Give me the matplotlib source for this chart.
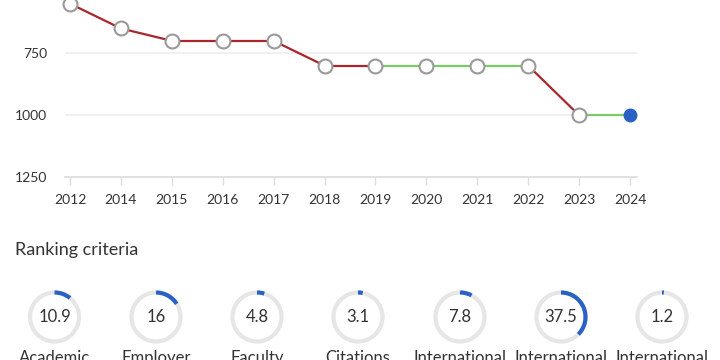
import matplotlib
matplotlib.use('Agg')
import matplotlib.pyplot as plt
from matplotlib.patches import Arc

plt.rcParams['font.family'] = ['Lato', 'DejaVu Sans']

# rank history (lower on the chart = worse rank)
years = ['2012', '2014', '2015', '2016', '2017', '2018', '2019', '2020', '2021', '2022', '2023', '2024']
ranks = [551, 651, 701, 701, 701, 801, 801, 801, 801, 801, 1001, 1001]
seg_colors = ['#a8262c'] * 6 + ['#7ccb67'] * 3 + ['#a8262c', '#7ccb67']

# ranking criteria scores
criteria = ['Academic', 'Employer', 'Faculty', 'Citations', 'International', 'International', 'International']
scores = [10.9, 16, 4.8, 3.1, 7.8, 37.5, 1.2]

text_col = '#333333'
fig = plt.figure(figsize=(7.2, 3.6), dpi=100)

# --- line chart ---
ax = fig.add_axes([65 / 720, 1 - 177 / 360, (637 - 65) / 720, 177 / 360])
x = list(range(len(years)))
for i, c in enumerate(seg_colors):
    ax.plot(x[i:i + 2], ranks[i:i + 2], color=c, lw=1.6, zorder=2, solid_capstyle='butt')
ax.plot(x[:-1], ranks[:-1], 'o', ms=10, mfc='white', mec='#9a9a9a', mew=1.5, zorder=3, clip_on=False)
ax.plot(x[-1], ranks[-1], 'o', ms=9, mfc='#2962c4', mec='#2962c4', zorder=3, clip_on=False)

ax.set_xlim(-5 / 50.9, 11 + 7 / 50.9)
ax.set_ylim(1250, 1250 - 177 / 62 * 250)
ax.set_yticks([750, 1000, 1250])
ax.set_xticks(x)
ax.set_xticklabels(years)
for s in ['top', 'right', 'left']:
    ax.spines[s].set_visible(False)
ax.spines['bottom'].set_color('#dddddd')
ax.spines['bottom'].set_linewidth(1.2)
ax.grid(axis='y', color='#eeeeee', lw=1.2)
ax.set_axisbelow(True)
ax.tick_params(axis='y', length=0, pad=13, labelsize=10, labelcolor=text_col)
ax.tick_params(axis='x', length=6, color='#dddddd', width=1, pad=6, labelsize=10, labelcolor=text_col)

# --- ranking criteria gauges (pixel coords) ---
gx = fig.add_axes([0, 0, 1, 1], zorder=-1)
gx.set_xlim(0, 720)
gx.set_ylim(0, 360)
gx.axis('off')
gx.text(15, 360 - 250.5, 'Ranking criteria', fontsize=13, color=text_col, va='center', ha='left')

centers = [54.5, 156, 257, 358, 460, 561, 662]
cy = 360 - 317
r = 24.5
for cx, v, lab in zip(centers, scores, criteria):
    gx.add_patch(Arc((cx, cy), 2 * r, 2 * r, theta1=0, theta2=360, color='#e6e6e6', lw=3))
    gx.add_patch(Arc((cx, cy), 2 * r, 2 * r, theta1=90 - v * 3.6, theta2=90, color='#2962c4', lw=3))
    gx.text(cx, cy, f'{v:g}', fontsize=12, color=text_col, ha='center', va='center')
    gx.text(cx, 360 - 350, lab, fontsize=12, color=text_col, ha='center', va='top')

fig.savefig('out.png', dpi=100)
